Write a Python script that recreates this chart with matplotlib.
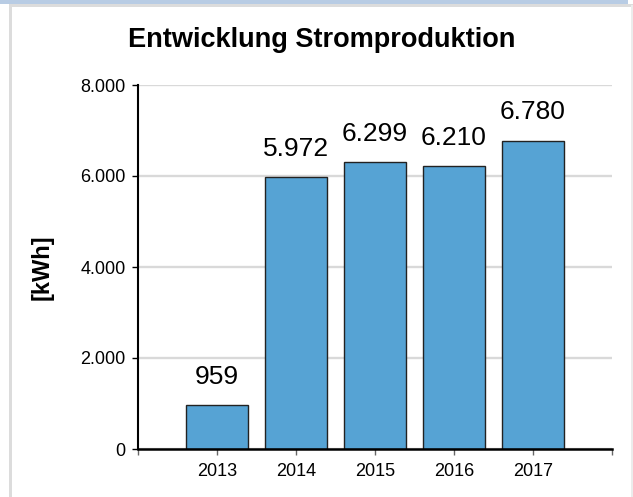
import matplotlib
matplotlib.use("Agg")
import matplotlib.pyplot as plt
from matplotlib.patches import Rectangle

# data
years = ["2013", "2014", "2015", "2016", "2017"]
production = [959, 5972, 6299, 6210, 6780]
y_ticks = [0, 2000, 4000, 6000, 8000]

W, H = 633, 497
plt.rcParams['font.family'] = ['Liberation Sans', 'DejaVu Sans']


def fx(px):
    return px / W


def fy(py):
    return 1 - py / H


def de_num(v):
    return f"{v:,}".replace(",", ".")


fig = plt.figure(figsize=(W / 100, H / 100), dpi=100)

# page frame: blue band at top, light gray border
fig.add_artist(Rectangle((0, fy(4)), fx(628), 4 / H, transform=fig.transFigure,
                         facecolor="#b8cce4", edgecolor="none"))
fig.add_artist(Rectangle((fx(9), fy(7)), 1 - fx(9), 3 / H, transform=fig.transFigure,
                         facecolor="#dcdcdc", edgecolor="none"))
fig.add_artist(Rectangle((fx(9), 0), 3 / W, fy(5), transform=fig.transFigure,
                         facecolor="#dcdcdc", edgecolor="none"))
fig.add_artist(Rectangle((fx(631), 0), 2 / W, fy(5), transform=fig.transFigure,
                         facecolor="#ececec", edgecolor="none"))

ax = fig.add_axes([fx(138), fy(449), fx(612) - fx(138), (449 - 85) / H])

x = list(range(1, len(years) + 1))
bars = ax.bar(x, production, width=0.79, color="#56a3d4", edgecolor="#222222",
              linewidth=1.0, zorder=3)

for xi, v in zip(x, production):
    ax.annotate(de_num(v), (xi, v), xytext=(0, 15.5), textcoords="offset points",
                ha="center", va="baseline", fontsize=19, color="black")

ax.set_xlim(0, 6)
ax.set_ylim(0, 8000)
ax.set_xticks(range(0, 7))
ax.set_xticklabels([""] + years + [""])
ax.set_yticks(y_ticks)
ax.set_yticklabels([de_num(t) for t in y_ticks])

ax.grid(axis="y", color="#d9d9d9", linewidth=1.7, zorder=0)
ax.set_axisbelow(True)

for s in ["top", "right"]:
    ax.spines[s].set_visible(False)
ax.spines["left"].set_linewidth(1.5)
ax.spines["bottom"].set_linewidth(1.8)
ax.spines["left"].set_zorder(4)
ax.spines["bottom"].set_zorder(4)

ax.tick_params(axis="y", length=4, width=1, pad=5, labelsize=13, color="black")
ax.tick_params(axis="x", length=4, width=1, pad=6, labelsize=13, color="#666666")

ax.set_ylabel("[kWh]", fontsize=17, fontweight="bold")
ax.yaxis.set_label_coords(fx(53.5) / (fx(612) - fx(138)) - fx(138) / (fx(612) - fx(138)), 0.5)

fig.text(fx(322), fy(47), "Entwicklung Stromproduktion", ha="center", va="baseline",
         fontsize=19.5, fontweight="bold")

fig.savefig("out.png", dpi=100)
